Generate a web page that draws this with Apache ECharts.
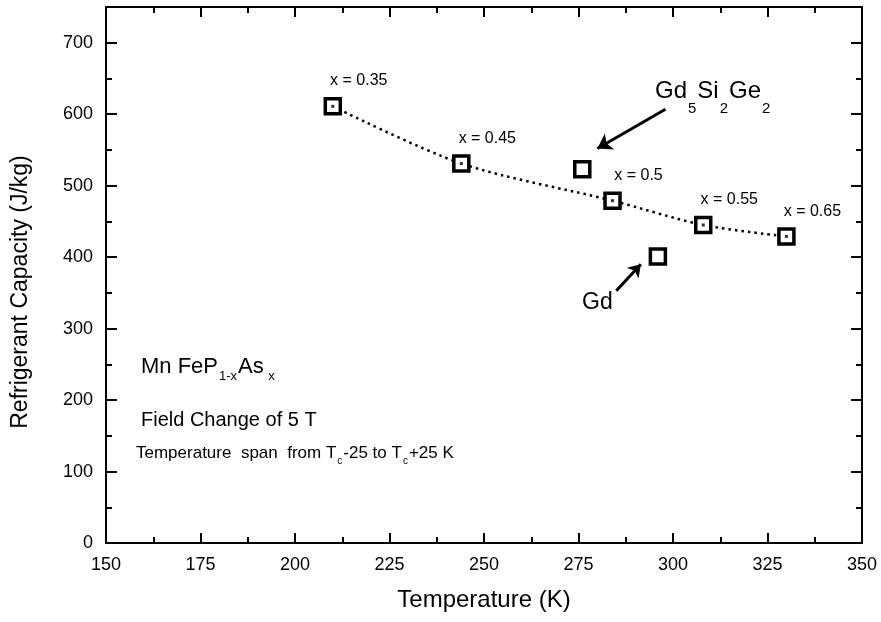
<!DOCTYPE html>
<html>
<head>
    <meta charset="utf-8">
    <script src="https://cdn.jsdelivr.net/npm/echarts@6/dist/echarts.min.js"></script>
    <style>
        html, body { width: 100%; height: 100%; margin: 0; background: #fff; }
        #main { width: 881px; height: 622px; }
    </style>
</head>
<body>
    <div id="main"></div>
    <script>
        // MnFeP(1-x)As(x) series
        var temps = [210, 244, 284, 308, 330];
        var capacity = [611, 531, 479, 445, 429];
        var xLabels = ['x = 0.35', 'x = 0.45', 'x = 0.5', 'x = 0.55', 'x = 0.65'];
        // reference materials
        var gdSiGeTemp = [276];
        var gdSiGeCap = [523];
        var gdTemp = [296];
        var gdCap = [401];
        // annotation arrows [tail, head] in data units
        var arrowGdSiGe = [[298, 607], [280, 552]];
        var arrowGd = [[285, 353], [291.5, 390]];

        var font = '"Liberation Sans", Arial, sans-serif';
        var chart = echarts.init(document.getElementById('main'));

        function pairs(xs, ys) {
            return xs.map(function (x, i) { return [x, ys[i]]; });
        }

        var xMajor = {
            type: 'value', min: 150, max: 350, interval: 25,
            axisLine: { show: true, onZero: false, lineStyle: { color: '#000', width: 2 } },
            axisTick: { show: true, inside: true, length: 10, lineStyle: { color: '#000', width: 2 } },
            minorTick: { show: true, splitNumber: 2, length: 6, lineStyle: { color: '#000', width: 2 } },
            splitLine: { show: false },
            axisLabel: { color: '#000', fontSize: 18, fontFamily: font, margin: 13 }
        };
        function yAxis(pos, interval, len, labels) {
            return {
                type: 'value', min: 0, max: 750, interval: interval, position: pos,
                axisLine: { show: true, onZero: false, lineStyle: { color: '#000', width: 2 } },
                axisTick: { show: true, inside: true, length: len, lineStyle: { color: '#000', width: 2 } },
                splitLine: { show: false },
                axisLabel: {
                    show: labels, color: '#000', fontSize: 18, fontFamily: font, margin: 13,
                    showMaxLabel: false
                }
            };
        }

        var option = {
            animation: false,
            backgroundColor: '#fff',
            grid: { left: 106, right: 19, top: 7, bottom: 79 },
            xAxis: [
                Object.assign({}, xMajor, {
                    position: 'bottom',
                    name: 'Temperature (K)', nameLocation: 'middle', nameGap: 45,
                    nameTextStyle: { color: '#000', fontSize: 24, fontFamily: font }
                }),
                Object.assign({}, xMajor, { position: 'top', axisLabel: { show: false } })
            ],
            yAxis: [
                yAxis('left', 100, 11, true),
                yAxis('left', 50, 6, false),
                yAxis('right', 100, 11, false),
                yAxis('right', 50, 6, false)
            ],
            series: [
                {
                    type: 'line',
                    data: pairs(temps, capacity),
                    smooth: 0.3,
                    showSymbol: false,
                    lineStyle: { color: '#000', width: 2.5, type: [2.5, 4] },
                    z: 1
                },
                {
                    type: 'scatter',
                    data: pairs(temps, capacity),
                    symbol: 'rect',
                    symbolSize: 15,
                    itemStyle: { color: '#fff', borderColor: '#000', borderWidth: 3.5, opacity: 1 },
                    label: {
                        show: true, position: 'top', offset: [26, -3],
                        color: '#000', fontSize: 16, fontFamily: font,
                        formatter: function (p) { return xLabels[p.dataIndex]; }
                    },
                    z: 3
                },
                {
                    type: 'scatter',
                    data: pairs(temps, capacity),
                    symbol: 'rect',
                    symbolSize: 3,
                    itemStyle: { color: '#000' },
                    z: 4
                },
                {
                    type: 'scatter',
                    data: pairs(gdSiGeTemp, gdSiGeCap),
                    symbol: 'rect',
                    symbolSize: 15,
                    itemStyle: { color: '#fff', borderColor: '#000', borderWidth: 3.5, opacity: 1 },
                    markLine: {
                        silent: true, symbol: ['none', 'arrow'], symbolSize: 14,
                        label: { show: false },
                        lineStyle: { color: '#000', width: 3, type: 'solid' },
                        data: [[{ coord: arrowGdSiGe[0] }, { coord: arrowGdSiGe[1] }]]
                    },
                    z: 3
                },
                {
                    type: 'scatter',
                    data: pairs(gdTemp, gdCap),
                    symbol: 'rect',
                    symbolSize: 15,
                    itemStyle: { color: '#fff', borderColor: '#000', borderWidth: 3.5, opacity: 1 },
                    markLine: {
                        silent: true, symbol: ['none', 'arrow'], symbolSize: 12,
                        label: { show: false },
                        lineStyle: { color: '#000', width: 3, type: 'solid' },
                        data: [[{ coord: arrowGd[0] }, { coord: arrowGd[1] }]]
                    },
                    z: 3
                }
            ],
            graphic: [
                {
                    type: 'text', x: 21, y: 292, rotation: Math.PI / 2,
                    style: {
                        text: 'Refrigerant Capacity (J/kg)', fontSize: 23, fontFamily: font,
                        fill: '#000', align: 'center', verticalAlign: 'middle'
                    }
                },
                {
                    type: 'text', left: 655, top: 79,
                    style: {
                        text: '{m|Gd}{s|5}{m|Si}{s|2}{m|Ge}{s|2}',
                        rich: {
                            m: { fontSize: 24, fontFamily: font, fill: '#000', lineHeight: 26 },
                            s: { fontSize: 15, fontFamily: font, fill: '#000', lineHeight: 50, verticalAlign: 'bottom', padding: [0, 1, 0, 1] }
                        }
                    }
                },
                {
                    type: 'text', x: 582, y: 303,
                    style: { text: 'Gd', fontSize: 23, fontFamily: font, fill: '#000', verticalAlign: 'middle' }
                },
                {
                    type: 'text', left: 141, top: 356,
                    style: {
                        text: '{m|Mn FeP}{s|1-x}{m|As}{s| x}',
                        rich: {
                            m: { fontSize: 22, fontFamily: font, fill: '#000', lineHeight: 24 },
                            s: { fontSize: 13, fontFamily: font, fill: '#000', lineHeight: 32, verticalAlign: 'bottom', padding: [0, 1, 0, 1] }
                        }
                    }
                },
                {
                    type: 'text', x: 141, y: 420,
                    style: { text: 'Field Change of 5 T', fontSize: 20, fontFamily: font, fill: '#000', verticalAlign: 'middle' }
                },
                {
                    type: 'text', left: 136, top: 445,
                    style: {
                        text: '{m|Temperature  span  from T}{s|c}{m|-25 to T}{s|c}{m|+25 K}',
                        rich: {
                            m: { fontSize: 17, fontFamily: font, fill: '#000', lineHeight: 19 },
                            s: { fontSize: 10, fontFamily: font, fill: '#000', lineHeight: 25, verticalAlign: 'bottom', padding: [0, 1, 0, 1] }
                        }
                    }
                }
            ]
        };
        chart.setOption(option);
    </script>
</body>
</html>
